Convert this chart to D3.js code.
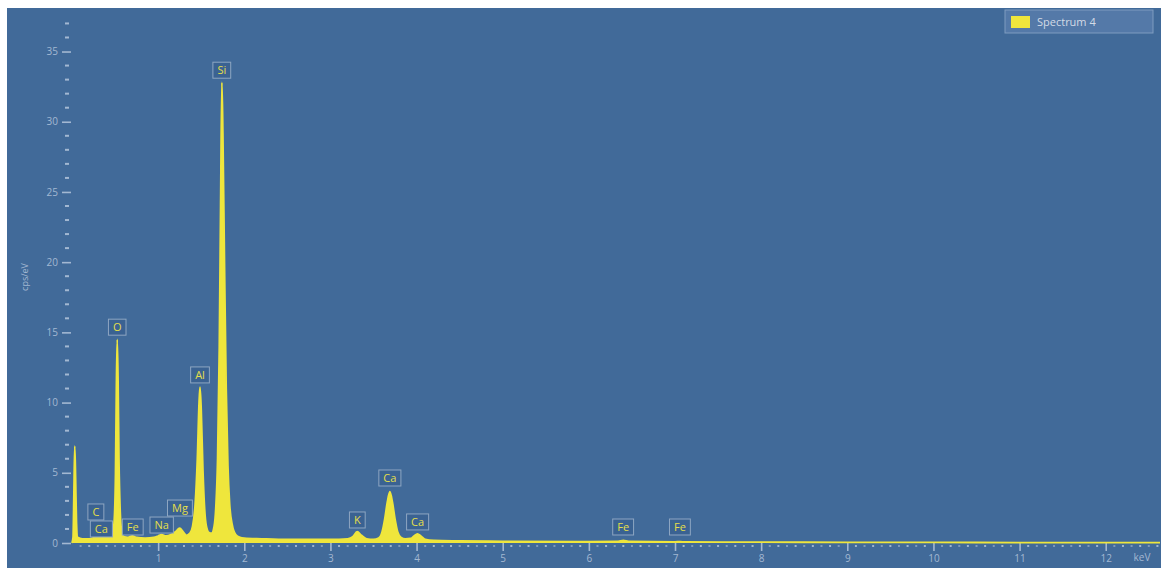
<!DOCTYPE html>
<html>
<head>
<meta charset="utf-8">
<script src="https://cdn.jsdelivr.net/npm/d3@7"></script>
<style>
  body { margin: 0; background: #ffffff; }
  text { font-family: "Open Sans", "Noto Sans", sans-serif; }
</style>
</head>
<body>
<div id="chart"></div>
<script>
// spectrum trace: [keV, cps/eV]
var spectrum = [
  [0.0, 0], [0.012, 0.4], [0.022, 3.5], [0.032, 6.9], [0.042, 4.6], [0.052, 1.5], [0.065, 0.4],
  [0.12, 0.3], [0.2, 0.3], [0.26, 0.4], [0.3, 0.5], [0.34, 0.55], [0.38, 0.4], [0.43, 0.4],
  [0.47, 0.6], [0.49, 1.6], [0.505, 5], [0.515, 11], [0.525, 14.5], [0.535, 11.5],
  [0.545, 6], [0.56, 2.2], [0.575, 0.9], [0.6, 0.45],
  [0.65, 0.4], [0.7, 0.5], [0.75, 0.4], [0.85, 0.35], [0.95, 0.4],
  [1.0, 0.5], [1.04, 0.6], [1.09, 0.5], [1.15, 0.6], [1.2, 0.8], [1.25, 1.05], [1.29, 0.8],
  [1.33, 0.55], [1.37, 0.7], [1.40, 1.2], [1.43, 2.8], [1.455, 6], [1.475, 10], [1.486, 11.1],
  [1.50, 9.5], [1.52, 5.2], [1.54, 2.4], [1.56, 1.2], [1.59, 0.75], [1.62, 0.7],
  [1.65, 1.2], [1.67, 2.6], [1.69, 6], [1.71, 14], [1.725, 24], [1.74, 32.8], [1.752, 29],
  [1.77, 20], [1.79, 11], [1.81, 5.5], [1.83, 2.8], [1.86, 1.3], [1.9, 0.6], [1.95, 0.4],
  [2.0, 0.35], [2.2, 0.3], [2.5, 0.25], [2.8, 0.25], [3.0, 0.25], [3.2, 0.3],
  [3.26, 0.45], [3.31, 0.8], [3.36, 0.55], [3.42, 0.3], [3.5, 0.25], [3.56, 0.35],
  [3.6, 0.8], [3.63, 1.7], [3.66, 2.9], [3.69, 3.65], [3.72, 2.9], [3.75, 1.7], [3.78, 0.8],
  [3.82, 0.4], [3.87, 0.3], [3.93, 0.32], [3.97, 0.5], [4.01, 0.65], [4.05, 0.5], [4.1, 0.25],
  [4.2, 0.18], [4.5, 0.15], [5.0, 0.12], [6.0, 0.1], [6.34, 0.11], [6.4, 0.18], [6.46, 0.11],
  [7.0, 0.08], [7.06, 0.1], [7.12, 0.07], [8.0, 0.06], [9.0, 0.05], [10.0, 0.04],
  [11.0, 0.03], [12.0, 0.02], [12.63, 0.02]
];

// peak markers: element, line energy (keV), height of the marker box bottom (cps/eV)
var peakNames    = ["C", "Ca", "Fe", "Na", "Mg", "Al", "Si", "O", "K", "Ca", "Ca", "Fe", "Fe"];
var peakEnergies = [0.277, 0.341, 0.705, 1.041, 1.253, 1.486, 1.739, 0.525, 3.312, 3.690, 4.012, 6.398, 7.057];
var peakLevels   = [1.64, 0.43, 0.57, 0.71, 1.92, 11.4, 33.1, 14.8, 1.07, 4.06, 0.93, 0.57, 0.57];

var yTicks = [0, 5, 10, 15, 20, 25, 30, 35];
var xTicks = [1, 2, 3, 4, 5, 6, 7, 8, 9, 10, 11, 12];
var seriesName = "Spectrum 4";

var bg = "#416a99";
var yellow = "#efe63c";
var tickColor = "#a3b8d2";

var svg = d3.select("#chart")
            .append("svg")
            .attr("width", 1161)
            .attr("height", 572);

svg.append("rect")
   .attr("x", 7).attr("y", 8)
   .attr("width", 1154).attr("height", 560)
   .attr("fill", bg);

var x = d3.scaleLinear().domain([0, 12.63]).range([72, 1160]);
var y = d3.scaleLinear().domain([0, 38.1]).range([543, 8]);

// y axis: minor ticks every 1, major every 5
var yMinor = d3.range(0, 38, 1);
svg.append("g").selectAll("rect")
   .data(yMinor.filter(function(d){ return d % 5 != 0; }))
   .enter().append("rect")
   .attr("x", 65).attr("y", function(d){ return y(d) - 1; })
   .attr("width", 4).attr("height", 2)
   .attr("fill", tickColor);

var yAxis = d3.axisLeft(y).tickValues(yTicks).tickSize(9).tickPadding(4);
var gy = svg.append("g")
   .attr("transform", "translate(71,0)")
   .call(yAxis);
gy.select(".domain").remove();
gy.selectAll(".tick line").attr("stroke", tickColor).attr("stroke-width", 1.6);
gy.selectAll(".tick text").attr("fill", tickColor).attr("font-size", 10)
  .style("font-family", "'Open Sans', sans-serif");

svg.append("text")
   .attr("transform", "translate(28,277) rotate(-90)")
   .attr("text-anchor", "middle")
   .attr("font-size", 9)
   .attr("fill", tickColor)
   .text("cps/eV");

// x axis: minor dots every 0.1 keV, major bars every 1 keV
var xMinor = d3.range(1, 127).map(function(i){ return i / 10; })
               .filter(function(d){ return Math.abs(d - Math.round(d)) > 0.01; });
svg.append("g").selectAll("rect")
   .data(xMinor)
   .enter().append("rect")
   .attr("x", function(d){ return x(d) - 1; })
   .attr("y", 545)
   .attr("width", 2).attr("height", 2)
   .attr("fill", tickColor)
   .attr("opacity", function(d, i){ return i % 2 == 0 ? 0.6 : 0.95; });

var xAxis = d3.axisBottom(x).tickValues(xTicks).tickSize(8).tickPadding(4)
              .tickFormat(d3.format("d"));
var gx = svg.append("g")
   .attr("transform", "translate(0,543)")
   .call(xAxis);
gx.select(".domain").remove();
gx.selectAll(".tick line").attr("stroke", tickColor).attr("stroke-width", 1.6);
gx.selectAll(".tick text").attr("fill", tickColor).attr("font-size", 10)
  .style("font-family", "'Open Sans', sans-serif");

svg.append("text")
   .attr("x", 1142).attr("y", 561)
   .attr("text-anchor", "middle")
   .attr("font-size", 10)
   .attr("fill", tickColor)
   .text("keV");

// spectrum
var area = d3.area()
  .x(function(d){ return x(d[0]); })
  .y0(y(0))
  .y1(function(d){ return y(d[1]); })
  .curve(d3.curveMonotoneX);

var line = d3.line()
  .x(function(d){ return x(d[0]); })
  .y(function(d){ return y(d[1]); })
  .curve(d3.curveMonotoneX);

svg.append("path")
   .attr("d", area(spectrum))
   .attr("fill", yellow);

svg.append("path")
   .attr("d", line(spectrum))
   .attr("fill", "none")
   .attr("stroke", yellow)
   .attr("stroke-width", 1.8);

// peak marker boxes
var markers = svg.append("g").selectAll("g")
  .data(peakNames)
  .enter().append("g")
  .attr("transform", function(d, i){
    return "translate(" + x(peakEnergies[i]) + "," + y(peakLevels[i]) + ")";
  });

markers.each(function(d){
  var g = d3.select(this);
  var t = g.append("text")
    .attr("x", 0).attr("y", -4)
    .attr("text-anchor", "middle")
    .attr("font-size", 11)
    .attr("fill", "#e4df4a")
    .text(d);
  var w = t.node().getComputedTextLength() + 9;
  g.insert("rect", "text")
    .attr("x", -w / 2).attr("y", -16)
    .attr("width", w).attr("height", 16)
    .attr("fill", "#3a6292")
    .attr("stroke", "#8ea6c2")
    .attr("stroke-width", 1);
});

// legend
var legend = svg.append("g").attr("transform", "translate(1005,10)");
legend.append("rect")
  .attr("width", 148).attr("height", 23)
  .attr("fill", "#5479a8")
  .attr("stroke", "#7f9cc0")
  .attr("stroke-width", 1);
legend.append("rect")
  .attr("x", 6).attr("y", 6)
  .attr("width", 19).attr("height", 12)
  .attr("fill", yellow);
legend.append("text")
  .attr("x", 32).attr("y", 16)
  .attr("font-size", 11)
  .attr("fill", "#d3dbe6")
  .text(seriesName);
</script>
</body>
</html>
